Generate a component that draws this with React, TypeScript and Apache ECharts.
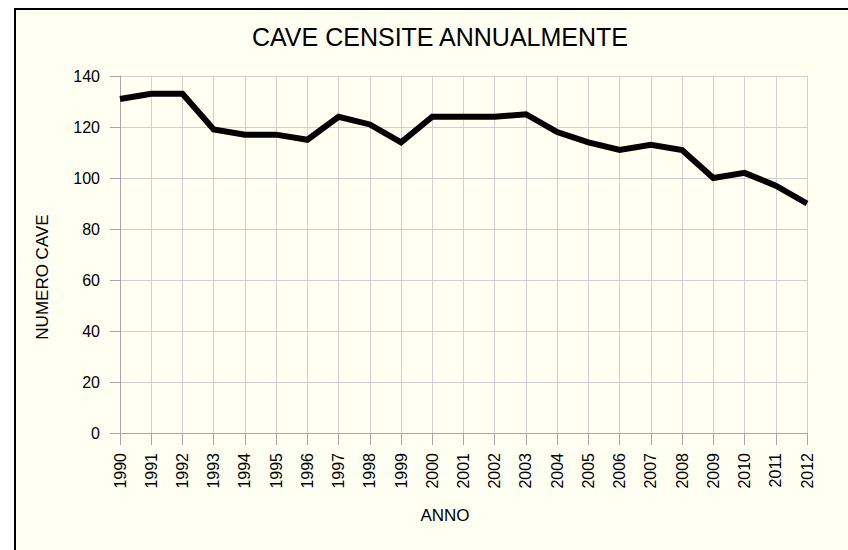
import React, { useEffect, useRef } from "react";
import * as echarts from "echarts";

const years = ["1990","1991","1992","1993","1994","1995","1996","1997","1998","1999","2000","2001","2002","2003","2004","2005","2006","2007","2008","2009","2010","2011","2012"];
const caveCount = [131,133,133,119,117,117,115,124,121,114,124,124,124,125,118,114,111,113,111,100,102,97,90];
const yTicks = { min: 0, max: 140, interval: 20 };
const titleText = "CAVE CENSITE ANNUALMENTE";
const xName = "ANNO";
const yName = "NUMERO CAVE";

const FONT = "'Liberation Sans', Arial, sans-serif";

export default function App() {
  const ref = useRef<HTMLDivElement>(null);
  useEffect(() => {
    if (!ref.current) return;
    const chart = echarts.init(ref.current, undefined, { renderer: "svg" });
    chart.setOption({
      animation: false,
      backgroundColor: "#ffffff",
      graphic: [
        {
          type: "rect",
          z: -10,
          shape: { x: 15, y: 9, width: 860, height: 560 },
          style: { fill: "#fffff2", stroke: "#000000", lineWidth: 2 },
        },
        {
          type: "text",
          x: 440,
          y: 37,
          style: { text: titleText, font: `25px ${FONT}`, fill: "#000", align: "center", verticalAlign: "middle" },
        },
        {
          type: "text",
          x: 445,
          y: 515,
          style: { text: xName, font: `17px ${FONT}`, fill: "#000", align: "center", verticalAlign: "middle" },
        },
        {
          type: "text",
          x: 42,
          y: 277,
          rotation: Math.PI / 2,
          style: { text: yName, font: `17px ${FONT}`, fill: "#000", align: "center", verticalAlign: "middle" },
        },
      ],
      grid: { left: 120, right: 41, top: 76, bottom: 117 },
      xAxis: {
        type: "category",
        data: years,
        boundaryGap: false,
        axisLine: { lineStyle: { color: "#a6a6a6", width: 1 } },
        axisTick: { show: true, length: 12, inside: false, lineStyle: { color: "#a6a6a6" } },
        splitLine: { show: true, lineStyle: { color: "#cfcfcf", width: 1 } },
        axisLabel: { rotate: 90, margin: 20, color: "#000", fontSize: 16, fontFamily: FONT, interval: 0 },
      },
      yAxis: {
        type: "value",
        min: yTicks.min,
        max: yTicks.max,
        interval: yTicks.interval,
        axisLine: { show: true, lineStyle: { color: "#a6a6a6", width: 1 } },
        axisTick: { show: true, length: 10, lineStyle: { color: "#a6a6a6" } },
        splitLine: { show: true, lineStyle: { color: "#cfcfcf", width: 1 } },
        axisLabel: { margin: 20, color: "#000", fontSize: 16, fontFamily: FONT },
      },
      series: [
        {
          type: "line",
          data: caveCount,
          symbol: "none",
          lineStyle: { color: "#000000", width: 6, join: "miter" },
        },
      ],
    });
    return () => chart.dispose();
  }, []);
  return <div ref={ref} style={{ position: "fixed", left: 0, top: 0, width: 848, height: 550 }} />;
}
